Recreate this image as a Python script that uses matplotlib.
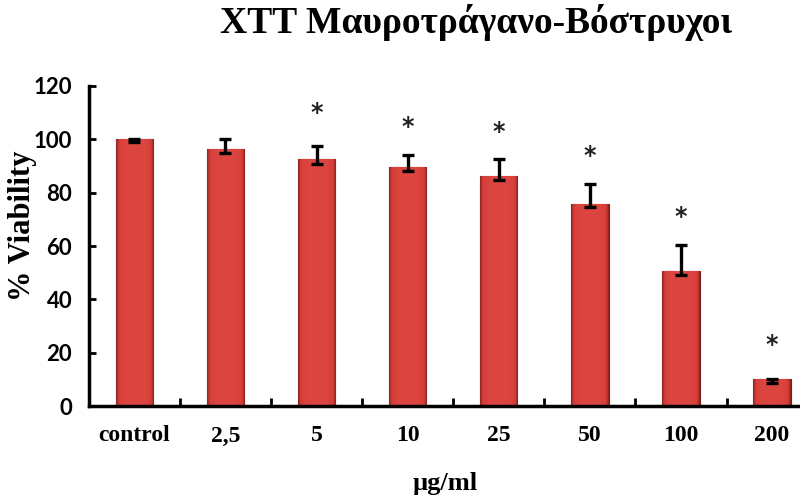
import numpy as np
import matplotlib.pyplot as plt
from matplotlib.colors import LinearSegmentedColormap

# data
categories = ["control", "2,5", "5", "10", "25", "50", "100", "200"]
viability = [100.2, 96.2, 92.5, 89.7, 86.4, 75.6, 50.5, 10.0]
err_low = [1.2, 1.5, 1.8, 1.5, 1.5, 1.1, 1.3, 1.4]
err_high = [0.0, 3.9, 5.0, 4.4, 6.2, 7.6, 10.0, 0.0]
star_y = [None, None, 109.7, 104.7, 102.9, 93.9, 71.0, 22.9]

x = np.arange(len(categories))

fig = plt.figure(figsize=(8, 4.97), dpi=100)
ax = fig.add_axes([0.111, 0.183, 0.911, 0.644])

bars = ax.bar(x, viability, width=0.41, color="#cf3b35", edgecolor="#7a1b18",
              linewidth=0.8, zorder=2)

# smooth horizontal shading on each bar (dark edges, lighter centre)
t = np.linspace(-1, 1, 64)
grad = 1 - np.abs(t) ** 4
cmap = LinearSegmentedColormap.from_list("barred", ["#8e2522", "#d63f38", "#dc4540"])
for b in bars:
    x0, w, h = b.get_x(), b.get_width(), b.get_height()
    im = ax.imshow(grad[np.newaxis, :], cmap=cmap, aspect="auto",
                   extent=[x0, x0 + w, 0, h], zorder=2.5, vmin=0, vmax=1,
                   interpolation="bilinear")
    im.set_clip_path(b)

ax.errorbar(x, viability, yerr=[err_low, err_high], fmt="none", ecolor="black",
            elinewidth=2.4, capsize=4, capthick=2.4, zorder=3)

for xi, sy in zip(x, star_y):
    if sy is not None:
        ax.text(xi, sy, "*", ha="center", va="center", fontsize=17,
                family="DejaVu Sans", fontweight="bold", color="#222222")

ax.set_xlim(-0.5, 7.5)
ax.set_ylim(0, 120)
ax.set_yticks(np.arange(0, 121, 20))
ax.set_xticks(x)
ax.set_xticklabels(categories, family="Liberation Serif", fontweight="bold", fontsize=17)
ax.set_xticks(np.arange(0.5, 7, 1), minor=True)
ax.tick_params(axis="x", which="major", length=0, pad=14)
ax.tick_params(axis="x", which="minor", direction="in", length=6, width=2)
ax.tick_params(axis="y", direction="in", length=5, width=2, pad=12)
for lab in ax.get_yticklabels():
    lab.set_family("Lato")
    lab.set_fontweight("bold")
    lab.set_fontsize(16)

for s in ["top", "right"]:
    ax.spines[s].set_visible(False)
for s in ["left", "bottom"]:
    ax.spines[s].set_linewidth(2.5)

fig.text(0.028, 0.545, "% Viability", family="Liberation Serif", fontweight="bold",
         fontsize=22, ha="center", va="center", rotation=90)
fig.text(0.557, 0.027, "µg/ml", family="Liberation Serif", fontweight="bold",
         fontsize=19, ha="center", va="center")
fig.text(0.595, 0.955, "XTT Μαυροτράγανο-Βόστρυχοι", family="Liberation Serif",
         fontweight="bold", fontsize=27, ha="center", va="center")

fig.savefig("out.png", dpi=100)
